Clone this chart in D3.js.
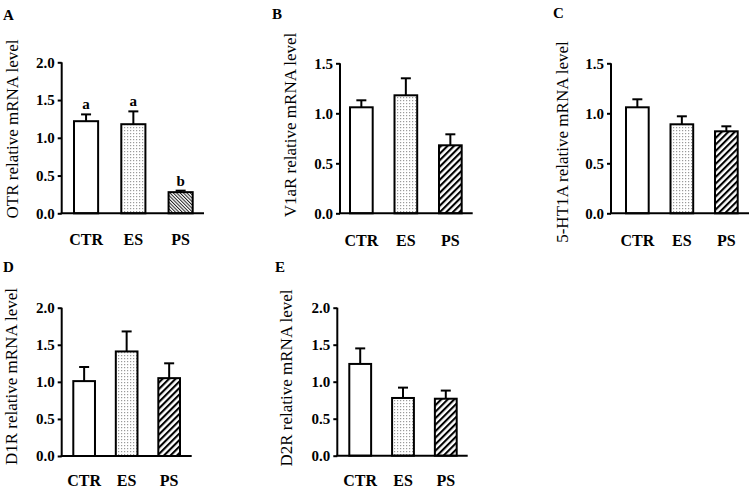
<!DOCTYPE html>
<html><head><meta charset="utf-8">
<script src="https://cdn.jsdelivr.net/npm/d3@7"></script>
<style>html,body{margin:0;padding:0;background:#fff;}svg{display:block;}</style>
</head><body>
<svg id="chart" width="752" height="489"></svg>
<script>
const groups = ["CTR", "ES", "PS"];
const panelLetters = ["A", "B", "C", "D", "E"];
const yTitles = ["OTR relative mRNA level", "V1aR relative mRNA level", "5-HT1A relative mRNA level", "D1R relative mRNA level", "D2R relative mRNA level"];
const otrMean = [1.22, 1.18, 0.28], otrSem = [0.09, 0.17, 0.02];
const v1aMean = [1.06, 1.18, 0.68], v1aSem = [0.07, 0.17, 0.11];
const htMean = [1.06, 0.89, 0.82], htSem = [0.08, 0.08, 0.05];
const d1Mean = [1.01, 1.41, 1.05], d1Sem = [0.19, 0.27, 0.20];
const d2Mean = [1.24, 0.78, 0.77], d2Sem = [0.21, 0.14, 0.11];
const sigLetters = ["a", "a", "b"];
const ticks20 = [0, 0.5, 1.0, 1.5, 2.0];
const ticks15 = [0, 0.5, 1.0, 1.5];

const svg = d3.select("#chart");
const defs = svg.append("defs");
// dots
const pd = defs.append("pattern").attr("id", "dots").attr("patternUnits", "userSpaceOnUse").attr("width", 3).attr("height", 3);
pd.append("rect").attr("width", 3).attr("height", 3).attr("fill", "#fff");
pd.append("rect").attr("x", 1).attr("y", 1).attr("width", 1.2).attr("height", 1.2).attr("fill", "#9a9a9a");
// wide hatch "/"
const ph = defs.append("pattern").attr("id", "hatch").attr("patternUnits", "userSpaceOnUse").attr("width", 4.6).attr("height", 4.6).attr("patternTransform", "rotate(45)");
ph.append("rect").attr("width", 4.6).attr("height", 4.6).attr("fill", "#fff");
ph.append("rect").attr("x", 0).attr("y", 0).attr("width", 2.1).attr("height", 4.6).attr("fill", "#000");
// dense hatch "\"
const ph2 = defs.append("pattern").attr("id", "hatchA").attr("patternUnits", "userSpaceOnUse").attr("width", 2.4).attr("height", 2.4).attr("patternTransform", "rotate(-45)");
ph2.append("rect").attr("width", 2.4).attr("height", 2.4).attr("fill", "#fff");
ph2.append("rect").attr("x", 0).attr("y", 0).attr("width", 1.0).attr("height", 2.4).attr("fill", "#222");

const panels = [
  {mean: otrMean, sem: otrSem, ticks: ticks20, max: 2.0, ax: 61.7, axEnd: 204, y0: 213.3, y1: 62.3, bars: [74, 192.7], hatch: "hatchA", sig: sigLetters,
   letter: [3, 20], title: [18, 129], catY: 245},
  {mean: v1aMean, sem: v1aSem, ticks: ticks15, max: 1.5, ax: 340, axEnd: 472.7, y0: 213.3, y1: 63.3, bars: [350, 461.7], hatch: "hatch",
   letter: [272, 19], title: [296, 125], catY: 246},
  {mean: htMean, sem: htSem, ticks: ticks15, max: 1.5, ax: 611, axEnd: 749, y0: 213.3, y1: 63.3, bars: [626, 737.7], hatch: "hatch",
   letter: [553, 18], title: [568, 142], catY: 246},
  {mean: d1Mean, sem: d1Sem, ticks: ticks20, max: 2.0, ax: 61.7, axEnd: 191.7, y0: 456, y1: 307.7, bars: [73.3, 180], hatch: "hatch",
   letter: [3, 272], title: [17, 376.5], catY: 486},
  {mean: d2Mean, sem: d2Sem, ticks: ticks20, max: 2.0, ax: 337.3, axEnd: 467.7, y0: 455.7, y1: 307.7, bars: [349.3, 456.7], hatch: "hatch",
   letter: [275, 272], title: [292, 378], catY: 486}
];
const fills = (p) => ["#fff", "url(#dots)", "url(#" + p.hatch + ")"];
const font = "'Liberation Serif', 'Times New Roman', serif";

panels.forEach((p, i) => {
  const g = svg.append("g");
  const x = d3.scaleBand().domain(groups).range(p.bars).paddingInner(0.49).paddingOuter(0);
  const y = d3.scaleLinear().domain([0, p.max]).range([p.y0, p.y1]);

  // error bars
  const eb = g.selectAll(".eb").data(groups).enter().append("g");
  eb.append("line")
    .attr("x1", d => x(d) + x.bandwidth() / 2).attr("x2", d => x(d) + x.bandwidth() / 2)
    .attr("y1", (d, j) => y(p.mean[j])).attr("y2", (d, j) => y(p.mean[j] + p.sem[j]))
    .attr("stroke", "#000").attr("stroke-width", 2);
  eb.append("line")
    .attr("x1", d => x(d) + x.bandwidth() / 2 - 5).attr("x2", d => x(d) + x.bandwidth() / 2 + 5)
    .attr("y1", (d, j) => y(p.mean[j] + p.sem[j])).attr("y2", (d, j) => y(p.mean[j] + p.sem[j]))
    .attr("stroke", "#000").attr("stroke-width", 2);

  // bars
  g.selectAll(".bar").data(groups).enter().append("rect")
    .attr("x", d => x(d)).attr("width", x.bandwidth())
    .attr("y", (d, j) => y(p.mean[j])).attr("height", (d, j) => y(0) - y(p.mean[j]))
    .attr("fill", (d, j) => fills(p)[j]).attr("stroke", "#000").attr("stroke-width", 2);

  // significance letters
  if (p.sig) {
    g.selectAll(".sig").data(groups).enter().append("text")
      .attr("x", d => x(d) + x.bandwidth() / 2)
      .attr("y", (d, j) => y(p.mean[j] + p.sem[j]) - 5)
      .attr("text-anchor", "middle").attr("font-family", font).attr("font-weight", "bold").attr("font-size", 15)
      .text((d, j) => p.sig[j]);
  }

  // y axis
  const yAxis = d3.axisLeft(y).tickValues(p.ticks).tickFormat(d3.format(".1f")).tickSize(4).tickPadding(3);
  const ya = g.append("g").attr("transform", `translate(${p.ax},0)`).call(yAxis);
  ya.select(".domain").attr("stroke-width", 2).attr("d", `M0,${p.y1}V${p.y0}`);
  ya.selectAll(".tick line").attr("stroke-width", 2);
  ya.selectAll(".tick text").attr("font-family", font).attr("font-weight", "bold").attr("font-size", 15).attr("fill", "#000");

  // x axis line
  g.append("line").attr("x1", p.ax - 1).attr("x2", p.axEnd).attr("y1", p.y0).attr("y2", p.y0)
    .attr("stroke", "#000").attr("stroke-width", 2);

  // category labels
  g.selectAll(".cat").data(groups).enter().append("text")
    .attr("x", d => x(d) + x.bandwidth() / 2).attr("y", p.catY)
    .attr("text-anchor", "middle").attr("font-family", font).attr("font-weight", "bold").attr("font-size", 16)
    .text(d => d);

  // y title
  g.append("text").attr("transform", `translate(${p.title[0]},${p.title[1]}) rotate(-90)`)
    .attr("text-anchor", "middle").attr("font-family", font).attr("font-size", 17)
    .text(yTitles[i]);

  // panel letter
  g.append("text").attr("x", p.letter[0]).attr("y", p.letter[1])
    .attr("font-family", font).attr("font-weight", "bold").attr("font-size", 15)
    .text(panelLetters[i]);
});
</script>
</body></html>
